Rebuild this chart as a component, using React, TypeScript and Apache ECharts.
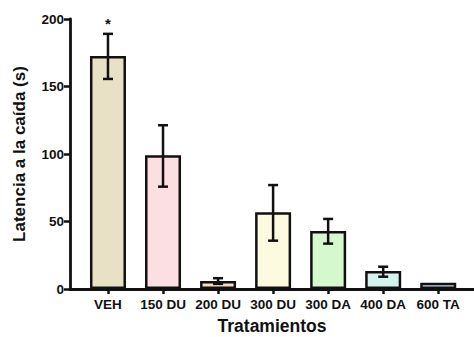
import React, { useEffect, useRef } from "react";
import * as echarts from "echarts";

const categories = ["VEH", "150 DU", "200 DU", "300 DU", "300 DA", "400 DA", "600 TA"];
const means = [172.6, 99, 6, 56.8, 43, 13.3, 4.7];
const errLow = [155.6, 75.8, 3.8, 35.8, 33.6, 9.1, 4.7];
const errHigh = [189, 121.3, 8, 77, 51.9, 16.5, 4.7];
const barColors = ["#e8e1c6", "#fcdfe2", "#f9dbbd", "#fdfbdf", "#d6f8cf", "#d5f3ee", "#c8d5e8"];
const marks = ["*", "", "", "", "", "", ""];
const yTicks = [0, 50, 100, 150, 200];

export default function App() {
  const ref = useRef<HTMLDivElement>(null);
  useEffect(() => {
    if (!ref.current) return;
    const chart = echarts.init(ref.current, null, { renderer: "svg" });
    const font = "'Liberation Sans', Arial, sans-serif";
    const idx = categories.map((_, i) => i);
    chart.setOption({
      animation: false,
      grid: { left: 70, right: 0, top: 19, bottom: 48, outerBoundsMode: "none", containLabel: false },
      xAxis: {
        type: "value",
        min: -0.69,
        max: 6.65,
        name: "Tratamientos",
        nameLocation: "middle",
        nameGap: 28,
        nameTextStyle: { fontFamily: font, fontWeight: "bold", fontSize: 17.5, color: "#111" },
        splitLine: { show: false },
        axisLine: { show: true, onZero: false, lineStyle: { color: "#111", width: 2.8 } },
        axisTick: { show: true, customValues: idx, length: 5, lineStyle: { color: "#111", width: 2.5 } },
        axisLabel: {
          customValues: idx,
          formatter: (v: number) => categories[Math.round(v)] ?? "",
          fontFamily: font,
          fontWeight: "bold",
          fontSize: 13.5,
          color: "#111",
          margin: 8,
        },
      },
      yAxis: {
        type: "value",
        min: 0,
        max: 200,
        interval: 50,
        name: "Latencia a la caída (s)",
        nameLocation: "middle",
        nameGap: 42,
        nameTextStyle: { fontFamily: font, fontWeight: "bold", fontSize: 17, color: "#111" },
        splitLine: { show: false },
        axisLine: { show: true, onZero: false, lineStyle: { color: "#111", width: 2.8 } },
        axisTick: { show: true, length: 6, lineStyle: { color: "#111", width: 2.5 } },
        axisLabel: {
          fontFamily: font,
          fontWeight: "bold",
          fontSize: 13.5,
          color: "#111",
          margin: 6,
          customValues: yTicks,
        },
      },
      series: [
        {
          type: "bar",
          barWidth: 36,
          data: means.map((v, i) => ({
            value: [i, v],
            itemStyle: { color: barColors[i], borderColor: "#111", borderWidth: 2.5 },
          })),
        },
        {
          type: "custom",
          z: 10,
          data: means.map((v, i) => [i, errLow[i], errHigh[i]]),
          renderItem: (params: any, api: any) => {
            const i = api.value(0);
            const lo = api.coord([i, api.value(1)]);
            const hi = api.coord([i, api.value(2)]);
            const children: any[] = [];
            const style = { stroke: "#111", lineWidth: 2.5 };
            if (Math.abs(lo[1] - hi[1]) > 0.5) {
              children.push({ type: "line", shape: { x1: lo[0], y1: lo[1], x2: hi[0], y2: hi[1] }, style });
              children.push({ type: "line", shape: { x1: lo[0] - 5, y1: lo[1], x2: lo[0] + 5, y2: lo[1] }, style });
              children.push({ type: "line", shape: { x1: hi[0] - 5, y1: hi[1], x2: hi[0] + 5, y2: hi[1] }, style });
            }
            const m = marks[params.dataIndex];
            if (m) {
              children.push({
                type: "text",
                style: {
                  x: hi[0],
                  y: hi[1] - 3,
                  text: m,
                  fill: "#111",
                  font: `bold 15px ${font}`,
                  align: "center",
                  verticalAlign: "bottom",
                },
              });
            }
            return { type: "group", children };
          },
        },
      ],
    });
    return () => chart.dispose();
  }, []);
  return <div ref={ref} style={{ width: 474, height: 337, position: "absolute", left: 0, top: 0, background: "#fff" }} />;
}
